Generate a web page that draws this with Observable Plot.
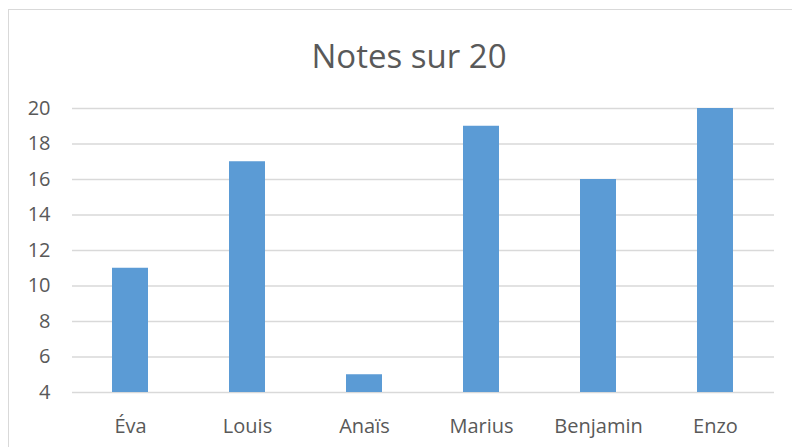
<!DOCTYPE html>
<html><head><meta charset="utf-8">
<script src="https://cdn.jsdelivr.net/npm/d3@7"></script>
<script src="https://cdn.jsdelivr.net/npm/@observablehq/plot@0.6"></script>
<style>
body{margin:0;background:#fff;overflow:hidden;}
#wrap{position:relative;width:792px;height:447px;}
#frame{position:absolute;left:8px;top:9px;width:800px;height:460px;border:1.5px solid #d9d9d9;box-sizing:border-box;}
#title{position:absolute;left:0;width:818px;top:34px;text-align:center;font-family:"Open Sans",sans-serif;font-size:33px;color:#595959;line-height:44px;}
#chart{position:absolute;left:0;top:0;}
</style></head>
<body><div id="wrap"><div id="frame"></div><div id="title">Notes sur 20</div><div id="chart"></div></div>
<script>
const names = ["Éva","Louis","Anaïs","Marius","Benjamin","Enzo"];
const notes = [11,17,5,19,16,20];
const yTicks = [4,6,8,10,12,14,16,18,20];
const data = names.map((n,i)=>({name:n, note:notes[i]}));
const chart = Plot.plot({
  width:792, height:447,
  marginTop:108, marginBottom:55, marginLeft:72, marginRight:18,
  style:{fontFamily:"'Open Sans',sans-serif", fontSize:"20px", color:"#595959", background:"transparent"},
  x:{domain:names, paddingInner:0.69, paddingOuter:0.345, label:null, tickSize:0, tickPadding:26},
  y:{domain:[4,20], ticks:yTicks, label:null, tickSize:0, tickPadding:22},
  marks:[
    Plot.ruleY(yTicks,{stroke:"#d9d9d9", strokeWidth:1.5}),
    Plot.barY(data,{x:"name", y1:4, y2:"note", fill:"#5b9bd5"})
  ]
});
document.getElementById("chart").appendChild(chart);
</script></body></html>
